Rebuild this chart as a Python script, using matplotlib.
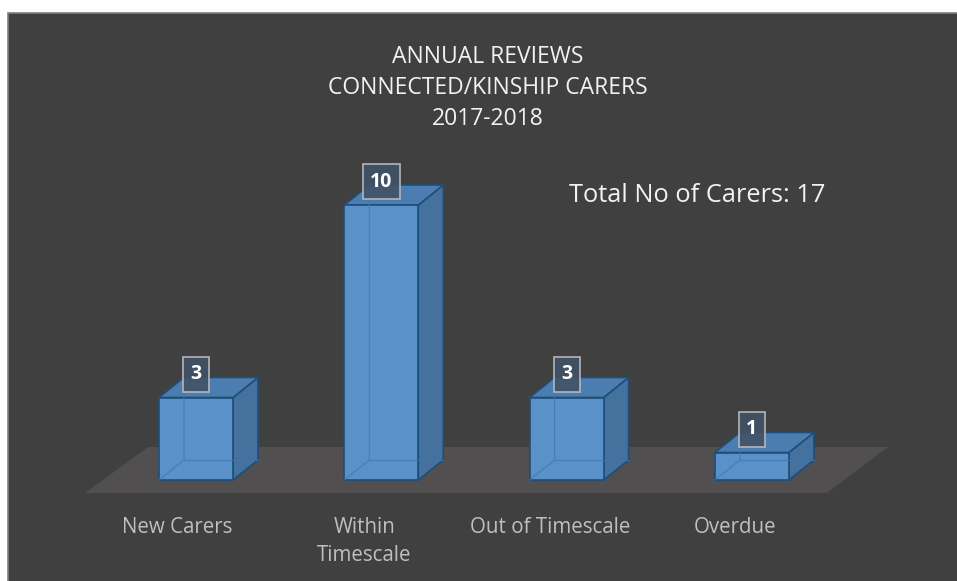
import matplotlib
matplotlib.use("Agg")
import matplotlib.pyplot as plt
from matplotlib.patches import Polygon, Rectangle

# data
categorias = ["New Carers", "Within\nTimescale", "Out of Timescale", "Overdue"]
valores = [3, 10, 3, 1]
titulo = "ANNUAL REVIEWS\nCONNECTED/KINSHIP CARERS\n2017-2018"
total_texto = "Total No of Carers: 17"

W, H = 957, 581
plt.rcParams['font.family'] = ['Open Sans', 'DejaVu Sans']

fig = plt.figure(figsize=(W / 100, H / 100), dpi=100)
fig.patch.set_facecolor("white")

ax = fig.add_axes([0, 0, 1, 1])
ax.set_facecolor("none")
ax.axis("off")

# fundo escuro com moldura
fundo = Rectangle((8 / W, -0.01), 1.02 - 8 / W, 1.01 - 13 / H, transform=fig.transFigure,
                  facecolor="#404040", edgecolor="#7f7f7f", linewidth=1.2, zorder=0)
ax.add_patch(fundo)

# escala: categoria i -> pixel 196 + 185.3*i ; valor 0 -> pixel 480, 27.5 px por unidade
px_cat, x0 = 185.3, 196
px_val, y0 = 27.5, 480
ax.set_xlim(-x0 / px_cat, (W - x0) / px_cat)
ax.set_ylim((y0 - H) / px_val, y0 / px_val)

largura = 74 / px_cat
dx = 25 / px_cat
dy = 20 / px_val

# piso
piso = Polygon([(-0.599, -0.473), (3.405, -0.473), (3.734, 1.2), (-0.259, 1.2)],
               closed=True, facecolor="#514f50", edgecolor="none", zorder=1)
ax.add_patch(piso)

cor_frente = "#5892c9"
cor_lado = "#44719e"
cor_topo = "#4b7db0"
cor_borda = "#1f4e79"

for i, v in enumerate(valores):
    xl, xr = i - largura / 2, i + largura / 2
    # lado
    ax.add_patch(Polygon([(xr, 0), (xr + dx, dy), (xr + dx, v + dy), (xr, v)],
                         facecolor=cor_lado, edgecolor=cor_borda, lw=1.2, zorder=2))
    # topo
    ax.add_patch(Polygon([(xl, v), (xr, v), (xr + dx, v + dy), (xl + dx, v + dy)],
                         facecolor=cor_topo, edgecolor=cor_borda, lw=1.2, zorder=2))
    # frente
    ax.bar(i, v, width=largura, color=cor_frente, edgecolor=cor_borda,
           linewidth=1.2, zorder=3)
    # arestas escondidas
    ax.plot([xl, xl + dx, xl + dx], [0, dy, v + dy], color="#3f78ae", lw=0.9,
            alpha=0.7, zorder=4)
    ax.plot([xl + dx, xr + dx], [dy, dy], color="#3f78ae", lw=0.9, alpha=0.7, zorder=4)

    # rótulo de valor
    ax.text(i, v + 0.85, str(v), ha="center", va="center", color="white",
            fontsize=14, fontweight="bold", zorder=6,
            bbox=dict(boxstyle="square,pad=0.38", facecolor="#415266",
                      edgecolor="#b4b8bd", linewidth=1.3, alpha=0.9))

    # rótulo da categoria
    ax.text(i - 0.1 if i == 0 else i - 0.09, -1.35, categorias[i], ha="center", va="top",
            color="#bfbfbf", fontsize=14.8, linespacing=1.45, zorder=5)

fig.text(488 / W, 1 - 45 / H, titulo, ha="center", va="top", color="#f2f2f2",
         fontsize=16.5, linespacing=1.4)
fig.text(569 / W, 1 - 196 / H, total_texto, ha="left", va="center", color="#f2f2f2",
         fontsize=18.3)

fig.savefig("out.png", dpi=100, facecolor=fig.get_facecolor())
